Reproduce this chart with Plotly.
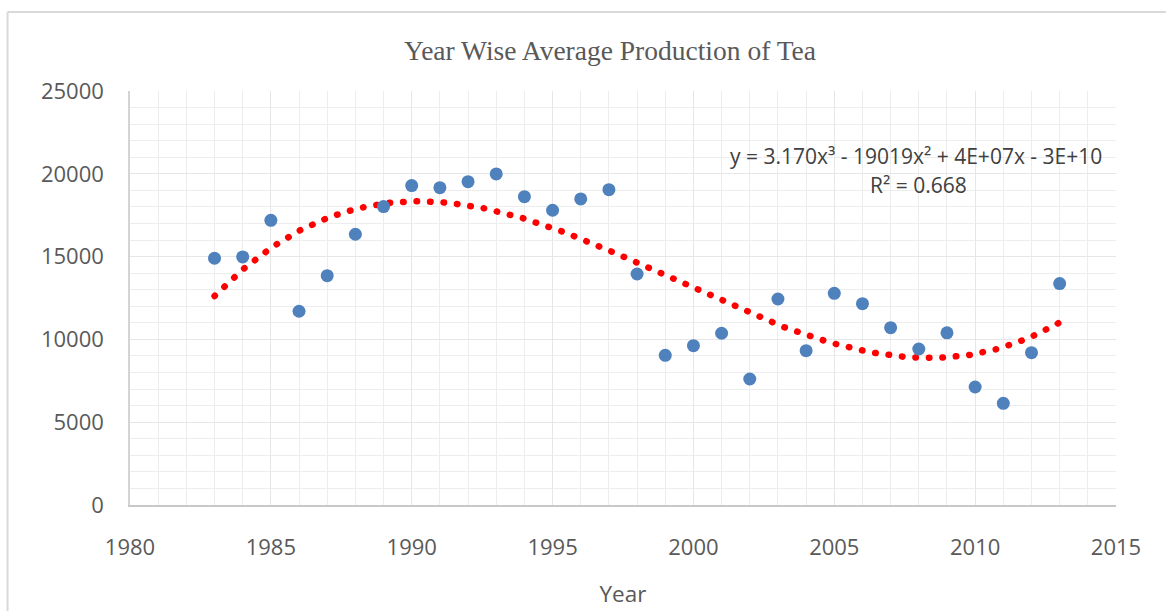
import numpy as np
import plotly.graph_objects as go

# ---- data ----
years = list(range(1983, 2014))
production = [14900, 14980, 17190, 11700, 13850, 16350, 18020, 19290, 19160, 19525,
              19990, 18620, 17800, 18480, 19040, 13950, 9040, 9620, 10370, 7610,
              12440, 9320, 12780, 12160, 10710, 9420, 10400, 7125, 6140, 9200, 13370]

x_ticks = [1980, 1985, 1990, 1995, 2000, 2005, 2010, 2015]
y_ticks = [0, 5000, 10000, 15000, 20000, 25000]

title_text = "Year Wise Average Production of Tea"
x_title = "Year"
eq_line1 = "y = 3.170x³ - 19019x² + 4E+07x - 3E+10"
eq_line2 = "R² = 0.668"

# cubic (polynomial order 3) trendline fitted to the data, as Excel does
xa = np.array(years, dtype=float)
ya = np.array(production, dtype=float)
coef = np.polyfit(xa - 1998.0, ya, 3)
xt = np.linspace(xa.min(), xa.max(), 400)
yt = np.polyval(coef, xt - 1998.0)

# ---- geometry ----
W, H = 1166, 611
L, R, T, B = 129.5, 1116.0, 91.0, 505.0
pw, ph = R - L, B - T

def px(xp):
    return (xp - L) / pw

def py(yp):
    return (B - yp) / ph

fig = go.Figure()

fig.add_trace(go.Scatter(
    x=xt, y=yt, mode="lines",
    line=dict(color="#ff0000", width=6.5, dash="0.5px,13px"),
    hoverinfo="skip", showlegend=False,
))
fig.add_trace(go.Scatter(
    x=years, y=production, mode="markers",
    marker=dict(color="#4f81bd", size=13, line=dict(width=0)),
    showlegend=False,
))

sans = "Open Sans, Liberation Sans, sans-serif"
tick_font = dict(family=sans, size=22, color="#595959")

fig.update_layout(
    width=W, height=H,
    margin=dict(l=L, r=W - R, t=T, b=H - B, autoexpand=False),
    paper_bgcolor="white", plot_bgcolor="white",
    title=dict(text=title_text, x=610 / W, xanchor="center", y=1 - 50 / H, yanchor="middle",
               font=dict(family="Liberation Serif, Times New Roman, serif", size=27.5, color="#595959")),
    xaxis=dict(
        range=[1980, 2015], tickmode="array", tickvals=x_ticks, tickformat="d",
        showgrid=True, gridcolor="#e6e6e6", gridwidth=1,
        minor=dict(dtick=1, showgrid=True, gridcolor="#ededed", gridwidth=1),
        showline=True, linecolor="#c8c8c8", linewidth=1.5,
        ticks="", ticklabelstandoff=22, tickfont=tick_font, zeroline=False, automargin=False,
        title=dict(text=x_title, standoff=26, font=dict(family=sans, size=22.5, color="#595959")),
    ),
    yaxis=dict(
        range=[0, 25000], tickmode="array", tickvals=y_ticks, tickformat="d",
        showgrid=True, gridcolor="#e6e6e6", gridwidth=1,
        minor=dict(dtick=1000, showgrid=True, gridcolor="#ededed", gridwidth=1),
        showline=True, linecolor="#d4d4d4", linewidth=1.5,
        ticks="", ticklabelstandoff=20, tickfont=tick_font, zeroline=False, automargin=False,
    ),
    shapes=[
        dict(type="line", xref="paper", yref="paper", x0=px(7), x1=px(1166), y0=py(12), y1=py(12),
             line=dict(color="#d9d9d9", width=2)),
        dict(type="line", xref="paper", yref="paper", x0=px(7), x1=px(7), y0=py(12), y1=py(615),
             line=dict(color="#d9d9d9", width=2)),
    ],
    annotations=[
        dict(text=eq_line1, xref="paper", yref="paper", x=px(916), y=py(156),
             xanchor="center", yanchor="middle", showarrow=False,
             font=dict(family=sans, size=21, color="#404040")),
        dict(text=eq_line2, xref="paper", yref="paper", x=px(918), y=py(185),
             xanchor="center", yanchor="middle", showarrow=False,
             font=dict(family=sans, size=21, color="#404040")),
    ],
)

post = """
var s=document.createElement('style');
s.innerHTML='html,body{margin:0;padding:0;overflow:hidden;} .scatterlayer .js-line{stroke-linecap:round !important;}';
document.head.appendChild(s);
"""
fig.write_html("out.html", post_script=post, config={"displayModeBar": False})
